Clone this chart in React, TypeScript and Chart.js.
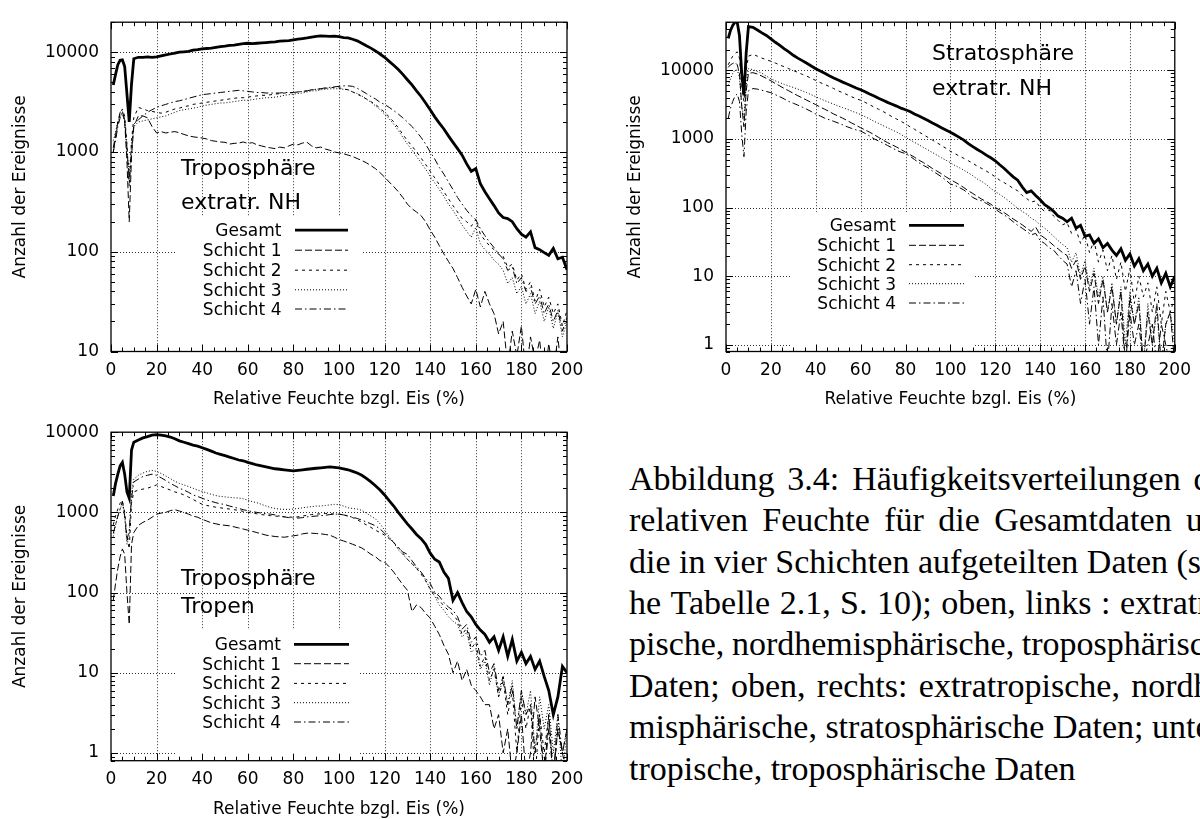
import React, { useEffect, useRef } from "react";
import { Chart, registerables } from "chart.js";

Chart.register(...registerables);

// ---------------- data ----------------
const XS = [
  1, 2, 3, 4, 5, 6, 7, 8, 9, 10,
  12, 14, 16, 18, 20, 22, 24, 26, 28, 30,
  32, 34, 36, 38, 40, 42, 44, 46, 48, 50,
  52, 54, 56, 58, 60, 62, 64, 66, 68, 70,
  72, 74, 76, 78, 80, 82, 84, 86, 88, 90,
  92, 94, 96, 98, 100, 102, 104, 106, 108, 110,
  112, 114, 116, 118, 120, 122, 124, 126, 128, 130,
  132, 134, 136, 138, 140, 142, 144, 146, 148, 150,
  152, 154, 156, 158, 160, 162, 164, 166, 168, 170,
  172, 174, 176, 178, 180, 182, 184, 186, 188, 190,
  192, 194, 196, 198, 200,
];

const SERIES_NAMES = ["Gesamt", "Schicht 1", "Schicht 2", "Schicht 3", "Schicht 4"];
const X_TICKS = [0, 20, 40, 60, 80, 100, 120, 140, 160, 180, 200];
const Y_TICKS_NH = [10, 100, 1000, 10000];
const Y_TICKS_STRAT = [1, 10, 100, 1000, 10000];
const Y_TICKS_TROP = [1, 10, 100, 1000, 10000];

// Troposphäre extratr. NH
const NH_GESAMT = [
  4700, 6000, 7500, 8300, 8400, 7200, 3800, 2000, 4800, 8600,
  8900, 8900, 9000, 8900, 9000, 9200, 9400, 9600, 9800, 10000,
  10100, 10200, 10500, 10600, 10800, 10900, 11000, 11200, 11400, 11500,
  11700, 11800, 12000, 12200, 12300, 12200, 12300, 12400, 12500, 12600,
  12700, 12900, 13000, 13100, 13300, 13500, 13700, 13900, 14200, 14400,
  14600, 14500, 14400, 14500, 14300, 14000, 13900, 13500, 13000, 12300,
  11600, 11000, 10300, 9600, 8900, 8100, 7400, 6700, 6000, 5300,
  4700, 4100, 3600, 3100, 2650, 2250, 1950, 1700, 1450, 1250,
  1080, 930, 760, 640, 680, 480, 400, 340, 290, 245,
  220, 215, 200, 170, 150, 140, 158, 110, 105, 98,
  92, 108, 85, 88, 66,
];
const NH_S1 = [
  1100, 1500, 2000, 2500, 2600, 2000, 800, 200, 900, 1800,
  2300, 2300, 2200, 1800, 1550, 1600, 1550, 1580, 1600, 1560,
  1500, 1450, 1420, 1400, 1380, 1350, 1300, 1280, 1260, 1250,
  1200, 1220, 1230, 1260, 1220, 1240, 1180, 1150, 1120, 1100,
  1080, 1120, 1100, 1150, 1200, 1180, 1230, 1250, 1150, 1100,
  1120, 1070, 1040, 1000, 980, 960, 930, 900, 860, 820,
  780, 730, 680, 620, 560, 500, 450, 400, 350, 300,
  270, 250, 230, 200, 165, 140, 115, 95, 80, 68,
  55, 44, 36, 30, 42, 28, 40, 30, 24, 15,
  20, 7, 16, 9, 18, 6, 14, 8, 13, 5,
  12, 6, 14, 5, 9,
];
const NH_S2 = [
  1000, 1400, 1900, 2400, 2700, 2300, 1200, 450, 1300, 2200,
  2800, 2700, 2600, 2550, 2500, 2450, 2500, 2600, 2700, 2750,
  2850, 2900, 3000, 3050, 3100, 3150, 3200, 3250, 3300, 3350,
  3400, 3450, 3500, 3500, 3550, 3600, 3650, 3700, 3700, 3750,
  3800, 3850, 3900, 3900, 3950, 4000, 4050, 4100, 4200, 4250,
  4300, 4350, 4400, 4450, 4400, 4300, 4200, 4000, 3800, 3600,
  3400, 3200, 3000, 2750, 2500, 2250, 2000, 1750, 1500, 1300,
  1150, 1000, 870, 750, 640, 550, 470, 400, 340, 290,
  250, 215, 200, 180, 210, 150, 130, 115, 105, 95,
  90, 70, 75, 52, 60, 42, 50, 32, 42, 28,
  35, 24, 30, 18, 26,
];
const NH_S3 = [
  1300, 1600, 2000, 2300, 2400, 2000, 1000, 600, 1200, 1800,
  2000, 2050, 2100, 2150, 2200, 2250, 2300, 2400, 2500, 2600,
  2650, 2700, 2750, 2800, 2900, 2950, 3000, 3050, 3100, 3100,
  3150, 3200, 3250, 3300, 3300, 3350, 3400, 3450, 3500, 3500,
  3550, 3600, 3700, 3750, 3800, 3850, 3900, 4000, 4100, 4100,
  4200, 4250, 4300, 4300, 4300, 4250, 4200, 4000, 3850, 3650,
  3400, 3150, 2900, 2650, 2400, 2150, 1900, 1650, 1400, 1200,
  1050, 900, 780, 670, 570, 490, 420, 360, 300, 260,
  220, 185, 160, 140, 175, 120, 105, 95, 82, 75,
  65, 48, 55, 38, 45, 30, 38, 24, 32, 20,
  28, 17, 25, 14, 20,
];
const NH_S4 = [
  1000, 1300, 1800, 2200, 2500, 2100, 1100, 500, 1000, 1900,
  2100, 2300, 2500, 2650, 2800, 2900, 3000, 3100, 3200, 3260,
  3350, 3450, 3550, 3650, 3750, 3800, 3850, 3900, 3950, 4000,
  4050, 4100, 4150, 4100, 4050, 4000, 3950, 3950, 3900, 3900,
  3900, 3900, 3950, 3950, 3950, 4000, 4050, 4100, 4200, 4250,
  4300, 4400, 4450, 4500, 4550, 4600, 4600, 4550, 4350, 4100,
  3850, 3600, 3400, 3150, 3000, 2800, 2600, 2400, 2200, 2000,
  1800, 1600, 1400, 1200, 1000, 850, 700, 600, 500, 420,
  350, 300, 260, 230, 210, 170, 145, 125, 110, 95,
  85, 65, 70, 48, 55, 40, 44, 30, 36, 24,
  30, 20, 26, 16, 22,
];

// Stratosphäre extratr. NH
const ST_GESAMT = [
  29000, 38000, 45000, 50000, 50000, 32000, 9000, 4300, 18000, 43000,
  42000, 38500, 35000, 32000, 28500, 25500, 23000, 20500, 18500, 16500,
  15000, 13800, 12600, 11500, 10500, 9700, 9000, 8300, 7700, 7200,
  6700, 6300, 5900, 5500, 5200, 4850, 4500, 4200, 3900, 3650,
  3400, 3200, 3000, 2800, 2650, 2500, 2300, 2150, 2000, 1850,
  1700, 1580, 1450, 1350, 1250, 1150, 1050, 960, 850, 770,
  700, 640, 580, 530, 480, 420, 370, 320, 280, 250,
  200, 165, 175, 150, 130, 110, 100, 88, 75, 70,
  62, 70, 50, 55, 38, 40, 30, 35, 26, 30,
  24, 20, 25, 17, 21, 14, 18, 12, 15, 10,
  13, 8, 11, 7, 10,
];
const ST_S1 = [
  11000, 12000, 12500, 13000, 12000, 9000, 3000, 1500, 5000, 9000,
  9200, 8800, 8200, 7600, 7000, 6400, 5900, 5400, 5000, 4600,
  4250, 3950, 3650, 3400, 3150, 2900, 2700, 2500, 2300, 2150,
  2000, 1850, 1700, 1580, 1450, 1350, 1250, 1150, 1050, 960,
  880, 820, 760, 700, 640, 590, 540, 490, 450, 410,
  370, 340, 310, 280, 255, 235, 215, 195, 175, 160,
  145, 132, 122, 112, 100, 92, 84, 76, 68, 62,
  56, 50, 45, 52, 40, 36, 32, 28, 25, 22,
  20, 13, 17, 9, 14, 6, 11, 4, 9, 3,
  7, 2, 6, 0.5, 5, 2, 4, 0.5, 3, 1,
  4, 0.5, 2, 3, 0.5,
];
const ST_S2 = [
  12000, 14000, 16000, 17500, 18500, 15000, 6000, 3500, 10000, 16000,
  17000, 16000, 15000, 14200, 13500, 12700, 11900, 11200, 10500, 9900,
  9300, 8700, 8200, 7600, 7100, 6600, 6200, 5800, 5400, 5000,
  4700, 4400, 4100, 3850, 3650, 3400, 3150, 2900, 2700, 2500,
  2300, 2100, 1950, 1800, 1650, 1500, 1380, 1260, 1150, 1050,
  960, 880, 800, 730, 660, 610, 560, 520, 480, 440,
  400, 370, 340, 310, 280, 250, 230, 210, 190, 175,
  150, 135, 120, 125, 100, 88, 92, 75, 65, 56,
  60, 42, 48, 30, 40, 22, 33, 16, 24, 12,
  20, 9, 16, 6, 13, 4, 10, 5, 8, 3,
  7, 2, 6, 3, 5,
];
const ST_S3 = [
  6000, 7500, 9000, 10000, 10000, 8000, 3000, 2000, 6000, 10500,
  10200, 9600, 9000, 8200, 7500, 7000, 6600, 6200, 5900, 5600,
  5300, 5000, 4700, 4400, 4100, 3850, 3600, 3400, 3200, 3000,
  2850, 2700, 2550, 2400, 2260, 2100, 1950, 1800, 1680, 1560,
  1450, 1350, 1260, 1160, 1050, 970, 890, 820, 750, 690,
  630, 580, 530, 490, 450, 410, 380, 350, 320, 290,
  260, 240, 215, 190, 170, 155, 140, 125, 110, 97,
  88, 80, 70, 64, 56, 50, 44, 38, 33, 29,
  26, 16, 22, 10, 17, 7, 13, 5, 10, 3,
  8, 2, 7, 1, 6, 2, 5, 0.5, 4, 1,
  3, 0.5, 2, 3, 1,
];
const ST_S4 = [
  2000, 2800, 3500, 4200, 4500, 3500, 1200, 550, 2500, 5000,
  5400, 5300, 5100, 4900, 4700, 4400, 4100, 3800, 3500, 3300,
  3100, 2900, 2700, 2500, 2300, 2150, 2000, 1900, 1800, 1700,
  1600, 1500, 1420, 1350, 1300, 1200, 1100, 1000, 930, 870,
  800, 740, 680, 640, 610, 560, 500, 450, 410, 380,
  340, 310, 280, 250, 220, 210, 195, 180, 160, 140,
  130, 125, 115, 105, 95, 85, 78, 70, 62, 55,
  50, 45, 40, 42, 33, 30, 26, 24, 20, 17,
  15, 7, 12, 4, 9, 2, 7, 1, 5, 0.5,
  4, 1, 3, 0.5, 3, 1, 2, 0.5, 1, 2,
  0.5, 2, 1, 0.5, 1,
];

// Troposphäre Tropen
const TR_GESAMT = [
  1600, 2300, 3000, 3800, 4200, 3000, 1800, 1500, 6000, 7500,
  8000, 8500, 8800, 9200, 9300, 9200, 9000, 8700, 8300, 7800,
  7500, 7200, 6900, 6700, 6400, 6100, 5800, 5500, 5300, 5100,
  4900, 4700, 4500, 4400, 4200, 4050, 3900, 3800, 3700, 3600,
  3500, 3450, 3400, 3350, 3300, 3350, 3400, 3450, 3500, 3550,
  3600, 3650, 3700, 3650, 3600, 3500, 3400, 3250, 3100, 2900,
  2650, 2400, 2150, 1900, 1650, 1400, 1200, 1000, 850, 720,
  620, 530, 470, 400, 310, 260, 240, 180, 150, 80,
  100, 75, 58, 50, 40, 34, 30, 24, 28, 19,
  28, 16, 26, 14, 18, 13, 16, 11, 14, 9,
  6, 3, 5, 12, 10,
];
const TR_S1 = [
  80, 130, 200, 280, 350, 300, 100, 40, 400, 560,
  690, 750, 800, 870, 950, 980, 1000, 1050, 1080, 1040,
  1000, 950, 900, 870, 820, 780, 740, 720, 700, 690,
  680, 660, 640, 620, 600, 580, 560, 540, 520, 510,
  500, 495, 490, 500, 510, 520, 540, 550, 550, 545,
  540, 530, 520, 490, 460, 440, 420, 400, 380, 360,
  330, 300, 280, 250, 240, 210, 180, 150, 125, 107,
  58, 70, 65, 55, 48, 38, 30, 22, 17, 10,
  14, 8, 11, 7, 6, 5, 4, 4, 2, 3,
  1, 2, 0.5, 1, 3, 0.5, 1, 5, 2, 0.5,
  3, 0.5, 2, 1, 0.5,
];
const TR_S2 = [
  700, 900, 1100, 1300, 1400, 1000, 500, 350, 1300, 1800,
  1900, 1950, 2000, 2100, 2200, 2100, 2000, 1900, 1800, 1740,
  1650, 1550, 1450, 1350, 1260, 1220, 1190, 1160, 1140, 1120,
  1100, 1080, 1060, 1030, 1000, 980, 960, 940, 920, 910,
  900, 890, 880, 875, 870, 880, 900, 920, 940, 950,
  960, 970, 960, 955, 950, 930, 900, 860, 810, 750,
  700, 650, 600, 560, 520, 470, 420, 370, 310, 260,
  230, 200, 170, 140, 110, 95, 80, 68, 60, 53,
  45, 30, 36, 20, 24, 12, 16, 8, 11, 5,
  8, 3, 6, 1, 5, 2, 4, 0.5, 3, 1,
  3, 0.5, 2, 1, 2,
];
const TR_S3 = [
  500, 700, 900, 1100, 1300, 900, 400, 500, 1800, 2600,
  2900, 3100, 3250, 3330, 3240, 3050, 2850, 2640, 2450, 2300,
  2200, 2100, 2000, 1900, 1820, 1750, 1680, 1620, 1580, 1560,
  1540, 1520, 1510, 1480, 1420, 1360, 1320, 1260, 1200, 1150,
  1120, 1100, 1090, 1090, 1100, 1120, 1140, 1160, 1180, 1200,
  1200, 1220, 1240, 1260, 1250, 1200, 1140, 1120, 1100, 1060,
  980, 900, 830, 720, 600, 500, 420, 340, 300, 260,
  230, 200, 180, 145, 110, 90, 70, 60, 50, 44,
  40, 28, 32, 18, 20, 11, 14, 7, 12, 5,
  9, 4, 8, 2, 6, 3, 6, 1, 5, 2,
  4, 1, 3, 0.5, 2,
];
const TR_S4 = [
  550, 700, 900, 1100, 1380, 900, 450, 600, 1500, 2400,
  2600, 2800, 2900, 3000, 2900, 2700, 2500, 2300, 2150, 2000,
  1900, 1780, 1650, 1580, 1500, 1430, 1370, 1320, 1280, 1250,
  1200, 1160, 1120, 1080, 1050, 1020, 1000, 980, 960, 950,
  930, 900, 880, 860, 850, 850, 860, 880, 890, 900,
  910, 920, 940, 950, 950, 930, 900, 870, 840, 800,
  760, 720, 680, 620, 550, 480, 420, 360, 320, 300,
  250, 210, 180, 150, 130, 100, 90, 75, 66, 60,
  50, 35, 40, 24, 28, 16, 19, 10, 13, 6,
  9, 4, 7, 2, 6, 3, 4, 1, 3, 0.5,
  2, 0.5, 3, 1, 2,
];

const CAPTION_LINES = [
  "Abbildung 3.4: Häufigkeitsverteilungen der",
  "relativen Feuchte für die Gesamtdaten und",
  "die in vier Schichten aufgeteilten Daten (sie-",
  "he Tabelle 2.1, S. 10); oben, links : extratro-",
  "pische, nordhemisphärische, troposphärische",
  "Daten; oben, rechts: extratropische, nordhe-",
  "misphärische, stratosphärische Daten; unten:",
  "tropische, troposphärische Daten",
];

// ---------------- styles / layout ----------------
const FONT = "'DejaVu Sans', 'Liberation Sans', sans-serif";
const LINE_STYLES = [
  { w: 2.8, dash: [] as number[] },
  { w: 1, dash: [7, 3] },
  { w: 1, dash: [3, 4] },
  { w: 1, dash: [1, 2] },
  { w: 1, dash: [7, 3, 1.5, 3] },
];

type Spec = {
  series: number[][];
  yMin: number;
  yMax: number;
  yTicks: number[];
  width: number;
  height: number;
  area: { left: number; top: number; right: number; bottom: number };
  yTitlePad: number;
  xTitlePad: number;
  labels: string[];
  labelX: number;
  labelBaselines: number[];
  keyTextRight: number;
  keySample: [number, number];
  keyRows: number[];
  mask: { x0: number; x1: number; y0: number };
};

const SPECS: Spec[] = [
  {
    series: [NH_GESAMT, NH_S1, NH_S2, NH_S3, NH_S4],
    yMin: 10, yMax: 20000, yTicks: Y_TICKS_NH,
    width: 600, height: 410,
    area: { left: 111, top: 13.5, right: 567, bottom: 351.5 },
    yTitlePad: 10.8, xTitlePad: 1.5,
    labels: ["Troposphäre", "extratr. NH"], labelX: 181, labelBaselines: [175, 209],
    keyTextRight: 281.5, keySample: [295, 348], keyRows: [230.2, 250.2, 270.2, 289.8, 309],
    mask: { x0: 176, x1: 362, y0: 217 },
  },
  {
    series: [ST_GESAMT, ST_S1, ST_S2, ST_S3, ST_S4],
    yMin: 0.8, yMax: 50000, yTicks: Y_TICKS_STRAT,
    width: 600, height: 410,
    area: { left: 126, top: 13.5, right: 582.5, bottom: 351.5 },
    yTitlePad: 25.8, xTitlePad: 1.5,
    labels: ["Stratosphäre", "extratr. NH"], labelX: 332, labelBaselines: [59.5, 94.5],
    keyTextRight: 296, keySample: [309, 364], keyRows: [225.3, 245.3, 264.7, 283.7, 303],
    mask: { x0: 190, x1: 375, y0: 212 },
  },
  {
    series: [TR_GESAMT, TR_S1, TR_S2, TR_S3, TR_S4],
    yMin: 0.8, yMax: 10000, yTicks: Y_TICKS_TROP,
    width: 600, height: 409,
    area: { left: 111, top: 12.7, right: 567, bottom: 350.7 },
    yTitlePad: 10.8, xTitlePad: 0.5,
    labels: ["Troposphäre", "Tropen"], labelX: 181, labelBaselines: [175, 202.5],
    keyTextRight: 281, keySample: [294, 349], keyRows: [234.3, 253.7, 273.4, 292.7, 312],
    mask: { x0: 175, x1: 360, y0: 220 },
  },
];

function decoPlugin(spec: Spec) {
  return {
    id: "deco",
    beforeDatasetsDraw(chart: any) {
      const { ctx, chartArea: a } = chart;
      const xs = chart.scales.x;
      const ys = chart.scales.y;
      ctx.save();
      ctx.strokeStyle = "#333";
      ctx.lineWidth = 1;
      ctx.setLineDash([1, 2]);
      ctx.beginPath();
      for (const v of X_TICKS) {
        const p = Math.round(xs.getPixelForValue(v)) + 0.5;
        if (p > a.left + 2 && p < a.right - 2) {
          ctx.moveTo(p, a.top);
          ctx.lineTo(p, a.bottom);
        }
      }
      for (const v of spec.yTicks) {
        const p = Math.round(ys.getPixelForValue(v)) + 0.5;
        if (p > a.top + 2 && p < a.bottom - 2) {
          ctx.moveTo(a.left, p);
          ctx.lineTo(a.right, p);
        }
      }
      ctx.stroke();
      ctx.setLineDash([]);
      ctx.fillStyle = "#fff";
      ctx.fillRect(spec.mask.x0, spec.mask.y0, spec.mask.x1 - spec.mask.x0, a.bottom - spec.mask.y0 - 1);
      ctx.restore();
    },
    afterDatasetsDraw(chart: any) {
      const { ctx, chartArea: a } = chart;
      const xs = chart.scales.x;
      const ys = chart.scales.y;
      ctx.save();
      ctx.strokeStyle = "#000";
      ctx.setLineDash([]);
      // ticks (inward, mirrored)
      ctx.lineWidth = 1;
      ctx.beginPath();
      for (let v = 0; v <= 200; v += 5) {
        const p = Math.round(xs.getPixelForValue(v)) + 0.5;
        const len = v % 20 === 0 ? 7 : 4;
        ctx.moveTo(p, a.bottom);
        ctx.lineTo(p, a.bottom - len);
        ctx.moveTo(p, a.top);
        ctx.lineTo(p, a.top + len);
      }
      const k0 = Math.floor(Math.log10(spec.yMin));
      const k1 = Math.ceil(Math.log10(spec.yMax));
      for (let k = k0; k <= k1; k++) {
        for (let m = 1; m <= 9; m++) {
          const v = m * Math.pow(10, k);
          if (v < spec.yMin || v > spec.yMax) continue;
          const p = Math.round(ys.getPixelForValue(v)) + 0.5;
          const len = m === 1 ? 7 : 4;
          ctx.moveTo(a.left, p);
          ctx.lineTo(a.left + len, p);
          ctx.moveTo(a.right, p);
          ctx.lineTo(a.right - len, p);
        }
      }
      ctx.stroke();
      // frame
      ctx.lineWidth = 1.3;
      ctx.strokeRect(a.left, a.top, a.right - a.left, a.bottom - a.top);
      // region label
      ctx.fillStyle = "#000";
      ctx.font = `22px ${FONT}`;
      ctx.textAlign = "left";
      ctx.textBaseline = "alphabetic";
      spec.labels.forEach((t, i) => ctx.fillText(t, spec.labelX, spec.labelBaselines[i]));
      // key
      ctx.font = `17px ${FONT}`;
      ctx.textAlign = "right";
      SERIES_NAMES.forEach((name, i) => {
        const ry = spec.keyRows[i];
        ctx.fillText(name, spec.keyTextRight, ry + 6);
        ctx.lineWidth = LINE_STYLES[i].w;
        ctx.setLineDash(LINE_STYLES[i].dash);
        ctx.beginPath();
        ctx.moveTo(spec.keySample[0], ry);
        ctx.lineTo(spec.keySample[1], ry);
        ctx.stroke();
      });
      ctx.restore();
    },
  };
}

function makeConfig(spec: Spec): any {
  const a = spec.area;
  return {
    type: "line",
    data: {
      datasets: spec.series.map((s, i) => ({
        label: SERIES_NAMES[i],
        data: XS.map((x, j) => ({ x, y: s[j] })),
        borderColor: "#000",
        backgroundColor: "#000",
        borderWidth: LINE_STYLES[i].w,
        borderDash: LINE_STYLES[i].dash,
        pointRadius: 0,
        tension: 0,
        fill: false,
        spanGaps: false,
        clip: 0,
      })),
    },
    options: {
      animation: false,
      responsive: false,
      maintainAspectRatio: false,
      devicePixelRatio: 1,
      events: [],
      layout: { padding: { top: a.top, right: spec.width - a.right, left: 0, bottom: 0 } },
      plugins: { legend: { display: false }, tooltip: { enabled: false }, title: { display: false } },
      scales: {
        x: {
          type: "linear",
          min: 0,
          max: 200,
          afterBuildTicks: (scale: any) => {
            scale.ticks = X_TICKS.map((v) => ({ value: v }));
          },
          afterFit: (scale: any) => {
            scale.height = spec.height - a.bottom;
          },
          grid: { display: false, drawTicks: false },
          border: { display: false },
          ticks: {
            autoSkip: false,
            maxRotation: 0,
            padding: 9,
            color: "#000",
            font: { family: FONT, size: 17 },
            callback: (v: any) => String(v),
          },
          title: {
            display: true,
            text: "Relative Feuchte bzgl. Eis (%)",
            color: "#000",
            font: { family: FONT, size: 17, lineHeight: 1 },
            padding: { top: 0, bottom: spec.xTitlePad },
          },
        },
        y: {
          type: "logarithmic",
          min: spec.yMin,
          max: spec.yMax,
          afterBuildTicks: (scale: any) => {
            scale.ticks = spec.yTicks.map((v) => ({ value: v }));
          },
          afterFit: (scale: any) => {
            scale.width = a.left;
          },
          grid: { display: false, drawTicks: false },
          border: { display: false },
          ticks: {
            autoSkip: false,
            padding: 12,
            color: "#000",
            font: { family: FONT, size: 17 },
            callback: (v: any) => String(v),
          },
          title: {
            display: true,
            text: "Anzahl der Ereignisse",
            color: "#000",
            font: { family: FONT, size: 17, lineHeight: 1.2 },
            padding: { top: spec.yTitlePad, bottom: 0 },
          },
        },
      },
    },
    plugins: [decoPlugin(spec)],
  };
}

function ChartCanvas({ spec, left, top }: { spec: Spec; left: number; top: number }) {
  const ref = useRef<HTMLCanvasElement | null>(null);
  useEffect(() => {
    if (!ref.current) return;
    const chart = new Chart(ref.current, makeConfig(spec));
    return () => chart.destroy();
  }, [spec]);
  return (
    <canvas
      ref={ref}
      width={spec.width}
      height={spec.height}
      style={{ position: "absolute", left, top, width: spec.width, height: spec.height }}
    />
  );
}

export default function App() {
  const lastIdx = CAPTION_LINES.length - 1;
  return (
    <div
      style={{
        position: "absolute",
        left: 0,
        top: 0,
        width: 1200,
        height: 819,
        overflow: "hidden",
        background: "#fff",
      }}
    >
      <ChartCanvas spec={SPECS[0]} left={0} top={0} />
      <ChartCanvas spec={SPECS[1]} left={600} top={0} />
      <ChartCanvas spec={SPECS[2]} left={0} top={410} />
      <div
        style={{
          position: "absolute",
          left: 629,
          top: 457.8,
          fontFamily: "'Liberation Serif', 'DejaVu Serif', serif",
          fontSize: 34,
          lineHeight: "41.4px",
          color: "#000",
        }}
      >
        {CAPTION_LINES.map((line, i) =>
          i < lastIdx ? (
            <div
              key={i}
              style={{
                display: "flex",
                justifyContent: "space-between",
                columnGap: 4,
                width: 608,
                height: 41.4,
                whiteSpace: "nowrap",
              }}
            >
              {line.split(" ").map((w, j) => (
                <span key={j}>{w}</span>
              ))}
            </div>
          ) : (
            <div key={i} style={{ height: 41.4, whiteSpace: "nowrap" }}>
              {line}
            </div>
          )
        )}
      </div>
    </div>
  );
}
